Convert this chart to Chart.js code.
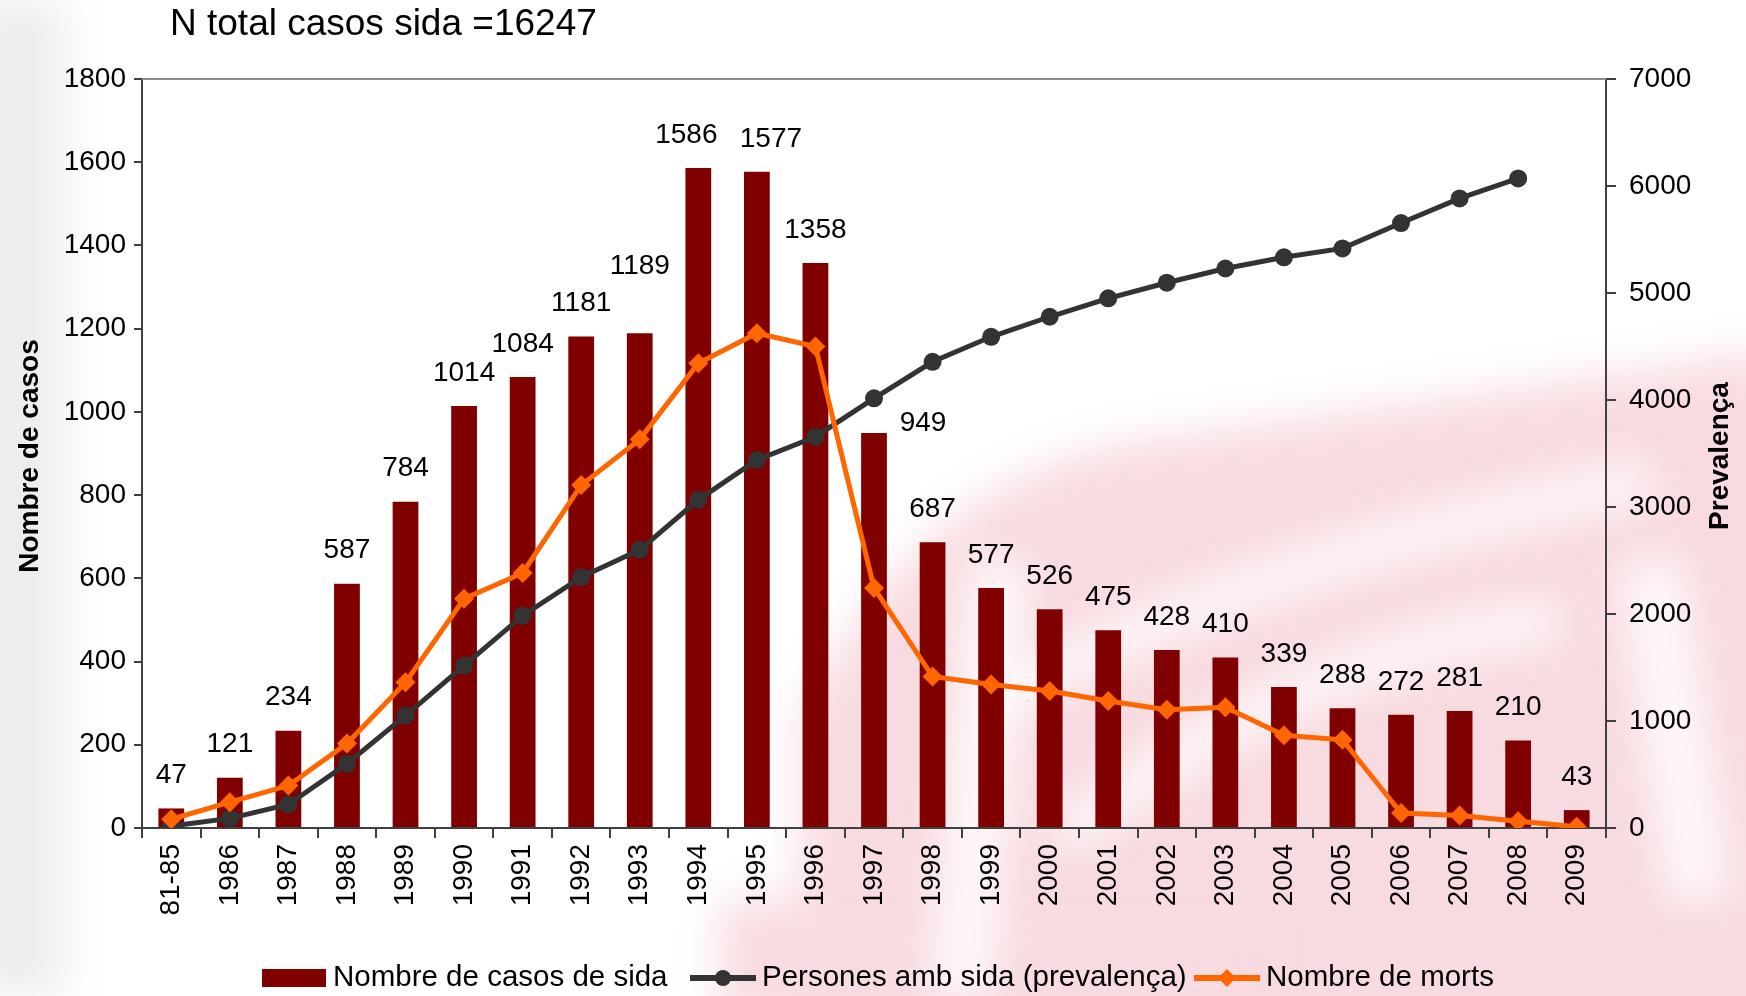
<!DOCTYPE html>
<html>
<head>
<meta charset="utf-8">
<script src="https://cdn.jsdelivr.net/npm/chart.js@4.4.1/dist/chart.umd.min.js"></script>
<style>
  html, body { margin: 0; padding: 0; background: #fff; }
  #wrap { width: 1746px; height: 996px; position: relative; }
</style>
</head>
<body>
<div id="wrap"><canvas id="sidaChart"></canvas></div>
<script>
const anys = ['81-85', '1986', '1987', '1988', '1989', '1990', '1991', '1992', '1993', '1994',
  '1995', '1996', '1997', '1998', '1999', '2000', '2001', '2002', '2003', '2004',
  '2005', '2006', '2007', '2008', '2009'];
const casos = [47, 121, 234, 587, 784, 1014, 1084, 1181, 1189, 1586,
  1577, 1358, 949, 687, 577, 526, 475, 428, 410, 339,
  288, 272, 281, 210, 43];
const prevalenca = [18, 90, 220, 600, 1050, 1518, 1984, 2345, 2600, 3067,
  3440, 3657, 4016, 4357, 4591, 4778, 4950, 5096, 5229, 5334,
  5417, 5654, 5884, 6071, null];
const morts = [21, 62, 102, 203, 350, 551, 613, 824, 934, 1117,
  1189, 1157, 577, 364, 345, 329, 305, 284, 290, 223,
  212, 36, 30, 16, 3];

const titol = 'N total casos sida =16247';
const FONT = "'Liberation Sans', Arial, sans-serif";

// label nudges (px) for a few bar labels that were moved by hand in the original
const labelNudge = { 8: [0, -34], 9: [-12, 0], 10: [14, 0], 12: [49, 23] };

const fonsPlugin = {
  id: 'fons',
  beforeDraw(chart) {
    const ctx = chart.ctx;
    ctx.save();
    ctx.fillStyle = '#fff';
    ctx.fillRect(0, 0, chart.width, chart.height);
    ctx.filter = 'blur(22px)';
    // grey smudge on the left edge
    ctx.fillStyle = 'rgba(0,0,0,0.07)';
    ctx.fillRect(-30, 0, 95, chart.height);
    // pink watermark
    ctx.fillStyle = '#f8dbe0';
    ctx.beginPath();
    ctx.moveTo(800, 1040);
    ctx.lineTo(800, 720);
    ctx.quadraticCurveTo(920, 470, 1150, 440);
    ctx.quadraticCurveTo(1450, 400, 1780, 350);
    ctx.lineTo(1780, 1040);
    ctx.closePath();
    ctx.fill();
    ctx.fillRect(720, 900, 540, 120);
    // white bands across the watermark
    ctx.strokeStyle = 'rgba(255,255,255,0.85)';
    ctx.lineWidth = 40;
    ctx.beginPath();
    ctx.moveTo(1000, 700);
    ctx.quadraticCurveTo(1250, 560, 1650, 480);
    ctx.stroke();
    ctx.beginPath();
    ctx.moveTo(1060, 840);
    ctx.quadraticCurveTo(1300, 650, 1560, 620);
    ctx.stroke();
    ctx.lineWidth = 60;
    ctx.beginPath();
    ctx.moveTo(1650, 560);
    ctx.lineTo(1700, 900);
    ctx.stroke();
    ctx.beginPath();
    ctx.moveTo(1000, 560);
    ctx.lineTo(960, 1000);
    ctx.stroke();
    ctx.restore();
  }
};

const textosPlugin = {
  id: 'textos',
  afterDraw(chart) {
    const ctx = chart.ctx;
    const area = chart.chartArea;
    ctx.save();
    // top frame line
    ctx.strokeStyle = '#8c8c8c';
    ctx.lineWidth = 2;
    ctx.beginPath();
    ctx.moveTo(area.left, area.top);
    ctx.lineTo(area.right, area.top);
    ctx.stroke();

    ctx.fillStyle = '#000';
    ctx.textBaseline = 'middle';
    ctx.textAlign = 'left';
    ctx.font = '37px ' + FONT;
    ctx.fillText(titol, 170, 25);

    ctx.font = 'bold 28px ' + FONT;
    ctx.textAlign = 'center';
    ctx.save();
    ctx.translate(30, 456);
    ctx.rotate(-Math.PI / 2);
    ctx.fillText(chart.options.scales.y.title.text, 0, 0);
    ctx.restore();
    ctx.save();
    ctx.translate(1720, 456);
    ctx.rotate(-Math.PI / 2);
    ctx.fillText(chart.options.scales.y1.title.text, 0, 0);
    ctx.restore();

    // data labels on bars
    ctx.font = '28px ' + FONT;
    const meta = chart.getDatasetMeta(0);
    meta.data.forEach((bar, i) => {
      const n = labelNudge[i] || [0, 0];
      ctx.fillText(String(casos[i]), bar.x + n[0], bar.y - 33 + n[1]);
    });

    // legend
    const y = 978;
    const starts = [262, 690, 1194];
    ctx.font = '29.5px ' + FONT;
    ctx.textAlign = 'left';
    chart.data.datasets.forEach((ds, i) => {
      let x = starts[i];
      if (i === 0) {
        ctx.fillStyle = ds.backgroundColor;
        ctx.fillRect(x, y - 9, 64, 18);
        x += 71;
      } else {
        ctx.strokeStyle = ds.borderColor;
        ctx.lineWidth = 6;
        ctx.beginPath();
        ctx.moveTo(x, y);
        ctx.lineTo(x + 66, y);
        ctx.stroke();
        ctx.fillStyle = ds.pointBackgroundColor;
        Chart.helpers.drawPoint(ctx, { pointStyle: ds.pointStyle, radius: ds.pointRadius - 1, rotation: 0, borderWidth: 0 }, x + 33, y);
        x += 72;
      }
      ctx.fillStyle = '#000';
      ctx.fillText(ds.label, x, y);
    });
    ctx.restore();
  }
};

const senseComa = function(value) { return String(value); };

const ctx = document.getElementById('sidaChart').getContext('2d');
const chart = new Chart(ctx, {
  data: {
    labels: anys,
    datasets: [{
      type: 'bar',
      label: 'Nombre de casos de sida',
      data: casos,
      backgroundColor: '#800000',
      borderWidth: 0,
      barPercentage: 0.44,
      categoryPercentage: 1.0,
      yAxisID: 'y',
      order: 3
    }, {
      type: 'line',
      label: 'Persones amb sida (prevalença)',
      data: prevalenca,
      borderColor: '#333333',
      backgroundColor: '#333333',
      pointBackgroundColor: '#333333',
      pointBorderColor: '#333333',
      borderWidth: 5,
      pointStyle: 'circle',
      pointRadius: 9,
      pointBorderWidth: 0,
      tension: 0,
      yAxisID: 'y1',
      order: 2
    }, {
      type: 'line',
      label: 'Nombre de morts',
      data: morts,
      borderColor: '#ff6600',
      backgroundColor: '#ff6600',
      pointBackgroundColor: '#ff6600',
      pointBorderColor: '#ff6600',
      borderWidth: 5,
      pointStyle: 'rectRot',
      pointRadius: 10,
      pointBorderWidth: 0,
      tension: 0,
      yAxisID: 'y',
      order: 1
    }]
  },
  options: {
    responsive: true,
    maintainAspectRatio: false,
    devicePixelRatio: 1,
    animation: false,
    layout: { padding: { top: 79, left: 0, right: 0, bottom: 0 } },
    plugins: {
      legend: { display: false },
      title: { display: false },
      tooltip: { enabled: false }
    },
    scales: {
      x: {
        offset: true,
        afterFit: function(scale) { scale.height = 168; },
        grid: { offset: true, drawOnChartArea: false, drawTicks: true, tickLength: 10, color: '#404040', lineWidth: 2 },
        border: { color: '#404040', width: 2 },
        ticks: {
          color: '#000',
          font: { family: FONT, size: 28 },
          minRotation: 90,
          maxRotation: 90,
          padding: 6,
          autoSkip: false
        }
      },
      y: {
        position: 'left',
        min: 0,
        max: 1800,
        afterFit: function(scale) { scale.width = 142; },
        title: { display: false, text: 'Nombre de casos' },
        grid: { drawOnChartArea: false, drawTicks: true, tickLength: 8, color: '#404040', lineWidth: 2 },
        border: { color: '#404040', width: 2 },
        ticks: {
          stepSize: 200,
          color: '#000',
          font: { family: FONT, size: 28 },
          padding: 8,
          callback: senseComa
        }
      },
      y1: {
        position: 'right',
        min: 0,
        max: 7000,
        afterFit: function(scale) { scale.width = 140; },
        title: { display: false, text: 'Prevalença' },
        grid: { drawOnChartArea: false, drawTicks: true, tickLength: 10, color: '#404040', lineWidth: 2 },
        border: { color: '#404040', width: 2 },
        ticks: {
          stepSize: 1000,
          color: '#000',
          font: { family: FONT, size: 28 },
          padding: 13,
          callback: senseComa
        }
      }
    }
  },
  plugins: [fonsPlugin, textosPlugin]
});
</script>
</body>
</html>
